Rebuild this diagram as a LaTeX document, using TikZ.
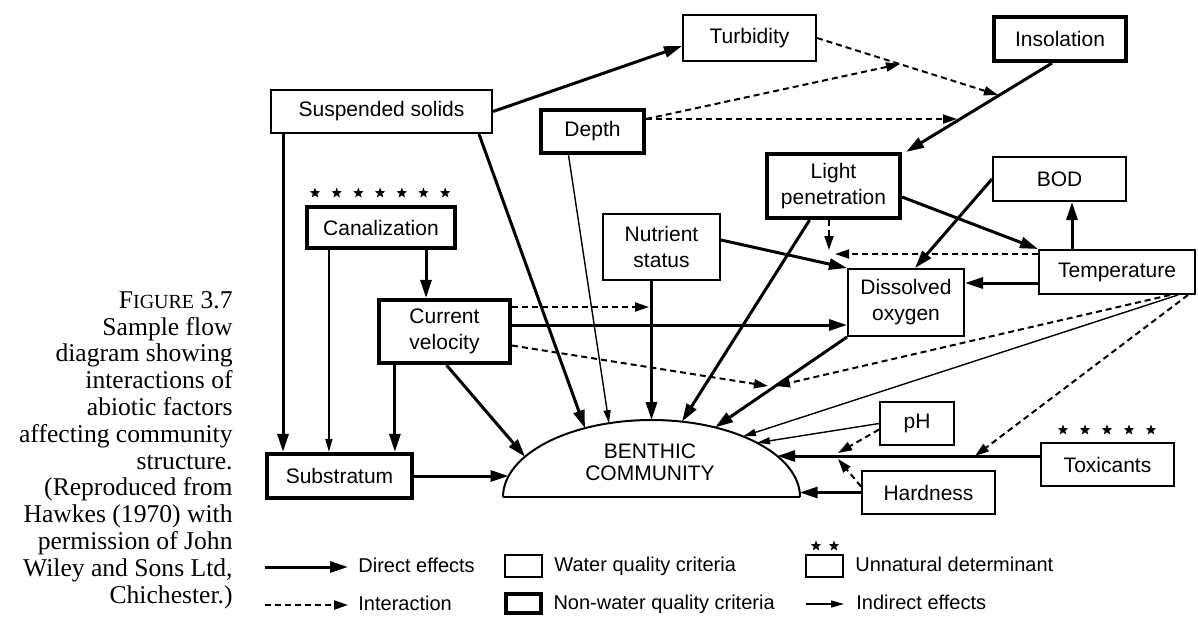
\documentclass[tikz,border=0pt]{standalone}
\usepackage{fontspec}
\setmainfont{Liberation Serif}
\setsansfont{Liberation Sans}
\usetikzlibrary{arrows.meta,shapes.geometric,positioning}

\begin{document}
\begin{tikzpicture}[x=0.5pt, y=-0.5pt,
	box/.style={draw, line width=1pt, inner sep=1pt, align=center,
		font=\sffamily\fontsize{10.5}{13}\selectfont},
	wq/.style={box},
	nwq/.style={box, line width=2.1pt},
	direct/.style={line width=1.5pt, -{Triangle[length=9pt,width=5.5pt]}},
	inter/.style={line width=1pt, dash pattern=on 3pt off 2pt, -{Triangle[length=7pt,width=4.5pt]}},
	indirect/.style={line width=0.7pt, -{Triangle[length=6.5pt,width=3.5pt]}},
	starmark/.style={star, star points=5, star point ratio=2.4, fill, inner sep=0pt, minimum size=5.5pt},
	legend/.style={anchor=west, inner sep=0pt, text height=1.5ex, text depth=.25ex,
		font=\sffamily\fontsize{10}{12}\selectfont}]
	\useasboundingbox (0,0) rectangle (1198,618);

	% caption
	\node[anchor=north east, align=right, inner sep=0pt, font=\fontsize{12.8}{13.4}\selectfont]
		(caption) at (233,291) {F{\fontsize{10}{13.4}\selectfont IGURE} 3.7\\Sample flow\\diagram showing\\interactions of\\abiotic factors\\affecting community\\structure.\\(Reproduced from\\Hawkes (1970) with\\permission of John\\Wiley and Sons Ltd,\\Chichester.)};

	% factors
	\node[wq,  minimum width=110.5pt, minimum height=21.5pt] (susp)  at (381.5,111.5) {Suspended solids};
	\node[wq,  minimum width=66.5pt,  minimum height=23pt]   (turb)  at (749.5,38)    {Turbidity};
	\node[nwq, minimum width=66pt,    minimum height=22pt]   (insol) at (1060,39)     {Insolation};
	\node[nwq, minimum width=51.5pt,  minimum height=21.5pt] (depth) at (592.5,131.5) {Depth};
	\node[nwq, minimum width=66.5pt,  minimum height=32pt]   (light) at (833.5,186)   {Light\\penetration};
	\node[wq,  minimum width=66.5pt,  minimum height=22pt]   (bod)   at (1059.5,179)  {BOD};
	\node[nwq, minimum width=74pt,    minimum height=20.5pt] (canal) at (381,227.5)   {Canalization};
	\node[wq,  minimum width=58.5pt,  minimum height=33pt]   (nutr)  at (661.5,247)   {Nutrient\\status};
	\node[nwq, minimum width=65.5pt,  minimum height=31.5pt] (curv)  at (444.5,331.5) {Current\\velocity};
	\node[wq,  minimum width=58pt,    minimum height=33.5pt] (dox)   at (906,302.5)   {Dissolved\\oxygen};
	\node[wq,  minimum width=78pt,    minimum height=22pt]   (temp)  at (1117,272)    {Temperature};
	\node[wq,  minimum width=37pt,    minimum height=21.5pt] (ph)    at (917,423.5)   {pH};
	\node[wq,  minimum width=66.5pt,  minimum height=21.5pt] (toxi)  at (1107.5,464.5) {Toxicants};
	\node[wq,  minimum width=66.5pt,  minimum height=21.5pt] (hard)  at (928.5,492.5) {Hardness};
	\node[nwq, minimum width=72.5pt,  minimum height=22pt]   (subs)  at (339.5,476)   {Substratum};

	\foreach \i in {0,...,6}
		\node[starmark] (cs\i) at (315+\i*21.7,193) {};
	\foreach \i in {0,...,4}
		\node[starmark] (ts\i) at (1063+\i*22,430) {};

	% benthic community
	\draw[line width=1pt] (503,497) arc[start angle=180, end angle=0, x radius=74.25pt, y radius=38.5pt];
	\draw[line width=0.6pt] (503,497) -- (800,497);
	\node[align=center, inner sep=0pt, font=\sffamily\fontsize{10.5}{10.8}\selectfont] (benth) at (650,462.5) {BENTHIC\\COMMUNITY};

	\coordinate (b19) at (508.6,476);
	\coordinate (b18) at (525,456.7);
	\coordinate (b3)  at (585,428.2);
	\coordinate (b4)  at (609,423.2);
	\coordinate (b11) at (651.5,420);
	\coordinate (b8)  at (682,421.6);
	\coordinate (b20) at (715,427.4);
	\coordinate (b25) at (743,436.4);
	\coordinate (b27) at (757,442.8);
	\coordinate (b30) at (777.2,456);
	\coordinate (b31) at (799.7,492.5);

	% meeting points of the interactions
	\coordinate (t1) at (900,64);
	\coordinate (i1) at (998,95);
	\coordinate (i2) at (957,119);
	\coordinate (lt) at (829,254);
	\coordinate (n1) at (649,307);
	\coordinate (d1) at (776,386);
	\coordinate (x2) at (838,456);
	\coordinate (x3) at (975,456);

	% direct effects
	\draw[direct] (susp.east) -- ([yshift=-4pt]turb.west);
	\draw[direct] ([xshift=6.5pt]susp.south west) -- ([xshift=6.5pt]susp.south west |- subs.north);
	\draw[direct] ([xshift=-7pt]susp.south east) -- (b3);
	\draw[direct] ([xshift=-4pt]insol.south) -- ([xshift=2pt]light.north east);
	\draw[direct] ([yshift=-5.5pt]light.east) -- (temp.north west);
	\draw[direct] ([xshift=-12pt]light.south) -- (b8);
	\draw[direct] ([yshift=3.5pt]nutr.east) -- (dox.north west);
	\draw[direct] (nutr.south -| b11) -- (b11);
	\draw[direct] ([yshift=3.25pt]curv.east) -- ([yshift=3.25pt]curv.east -| dox.west);
	\draw[direct] ([xshift=9pt]curv.south west) -- ([xshift=9pt]curv.south west |- subs.north);
	\draw[direct] ([xshift=22.5pt]canal.south) -- ([xshift=22.5pt]canal.south |- curv.north);
	\draw[direct] ([xshift=1pt]curv.south) -- (b18);
	\draw[direct] (subs.east) -- (b19);
	\draw[direct] (dox.south west) -- (b20);
	\draw[direct] ([yshift=-5.5pt]temp.west) -- ([yshift=-5.5pt]temp.west -| dox.east);
	\draw[direct] ([xshift=-22.5pt]temp.north) -- ([xshift=-22.5pt]temp.north |- bod.south);
	\draw[direct] (bod.west) -- ([xshift=4.5pt]dox.north);
	\draw[direct] (toxi.west |- b30) -- (b30);
	\draw[direct] (hard.west) -- (b31);

	% indirect effects
	\draw[indirect] ([xshift=-12pt]depth.south) -- (b4);
	\draw[indirect] ([xshift=12pt]canal.south west) -- ([xshift=12pt]canal.south west |- subs.north);
	\draw[indirect] ([xshift=-9pt]temp.south east) -- (b25);
	\draw[indirect] (ph.west) -- (b27);

	% interactions
	\draw[inter] (turb.east) -- (i1);
	\draw[inter] (depth.east |- i2) -- (t1);
	\draw[inter] (depth.east |- i2) -- (i2);
	\draw[inter] (light.south -| lt) -- ([yshift=2pt]lt);
	\draw[inter] (temp.west |- lt) -- ([xshift=3pt]lt);
	\draw[inter] (curv.east |- n1) -- (n1);
	\draw[inter] ([yshift=-7pt]curv.east) -- ([xshift=-4pt]d1);
	\draw[inter] ([xshift=-13pt]temp.south east) -- (d1);
	\draw[inter] ([xshift=-4pt]temp.south east) -- (x3);
	\draw[inter] ([yshift=-3pt]ph.west) -- ([yshift=1.5pt]x2);
	\draw[inter] ([yshift=3pt]hard.west) -- ([yshift=-1.5pt]x2);

	% legend
	\coordinate (ld) at (265,567);
	\coordinate (li) at (265,605);
	\coordinate (lin) at (806,604);
	\node[legend] (tdir) at (358,567) {Direct effects};
	\node[legend] (tint) at (358,605) {Interaction};
	\draw[direct] (ld) -- ([xshift=-5pt]tdir.west);
	\draw[inter] (li) -- ([xshift=-5pt]tint.west);

	\node[wq, minimum width=18.5pt, minimum height=11pt] (lwq) at (523.5,566) {};
	\node[nwq, minimum width=17.5pt, minimum height=9.5pt] (lnwq) at (523.5,603.5) {};
	\node[legend, right=5.5pt of lwq] (twq) {Water quality criteria};
	\node[legend, right=5pt of lnwq] (tnwq) {Non-water quality criteria};

	\node[wq, minimum width=18.5pt, minimum height=11pt] (lun) at (824.5,566) {};
	\foreach \i in {0,1}
		\node[starmark] (ls\i) at (816+\i*18,546) {};
	\node[legend, right=5.5pt of lun] (tun) {Unnatural determinant};
	\node[legend] (tind) at (856,604) {Indirect effects};
	\draw[indirect] (lin) -- ([xshift=-6pt]tind.west);
\end{tikzpicture}
\end{document}
